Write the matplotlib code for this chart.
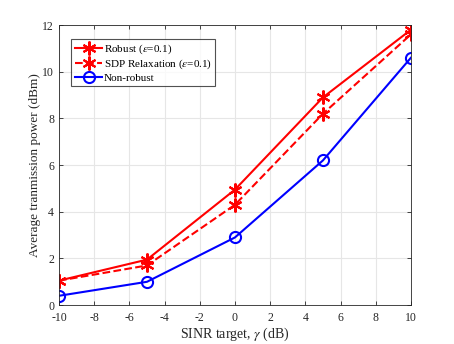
import matplotlib
matplotlib.use("Agg")
import matplotlib.pyplot as plt

sinr = [-10, -5, 0, 5, 10]
robust = [1.05, 1.95, 4.95, 8.9, 11.8]
sdp = [1.05, 1.7, 4.3, 8.2, 11.6]
nonrobust = [0.4, 1.0, 2.9, 6.2, 10.6]
xticks = list(range(-10, 11, 2))
yticks = list(range(0, 13, 2))

plt.rcParams['font.family'] = ['Liberation Serif', 'DejaVu Serif']
plt.rcParams['mathtext.fontset'] = 'stix'

fig = plt.figure(figsize=(4.54, 3.44), dpi=100)
ax = fig.add_axes([0.130, 0.113, 0.775, 0.814])

ax.plot(sinr, robust, '-', color='red', lw=1.5, marker=(6, 2, 0), ms=10, mew=1.5,
        label=r'Robust ($\epsilon$=0.1)')
ax.plot(sinr, sdp, '--', color='red', lw=1.5, marker=(6, 2, 0), ms=10, mew=1.5,
        label=r'SDP Relaxation ($\epsilon$=0.1)')
ax.plot(sinr, nonrobust, '-', color='blue', lw=1.5, marker='o', ms=8, mew=1.5,
        mfc='none', label='Non-robust')

ax.set_xlim(-10, 10)
ax.set_ylim(0, 12)
ax.set_xticks(xticks)
ax.set_yticks(yticks)
ax.set_xticklabels([str(t) for t in xticks])
ax.grid(True, color='#e6e6e6', lw=0.8)
ax.set_axisbelow(True)
for s in ax.spines.values():
    s.set_color('#262626')
    s.set_linewidth(0.6)
ax.tick_params(direction='in', length=3, labelsize=8.5, colors='#262626', width=0.6)
ax.tick_params(axis='x', pad=5)
ax.tick_params(top=True, right=True)
ax.set_xlabel(r'SINR target, $\gamma$ (dB)', fontsize=10, color='#262626', labelpad=1)
ax.set_ylabel('Average tranmission power (dBm)', fontsize=9.5, color='#262626', labelpad=1)

leg = ax.legend(loc='upper left', bbox_to_anchor=(0.035, 0.95), fontsize=8,
                frameon=True, fancybox=False, edgecolor='#262626',
                handlelength=2.5, handletextpad=0.1, borderpad=0.3,
                labelspacing=0.15, borderaxespad=0)
leg.get_frame().set_linewidth(0.8)

fig.savefig('out.png', dpi=100)
